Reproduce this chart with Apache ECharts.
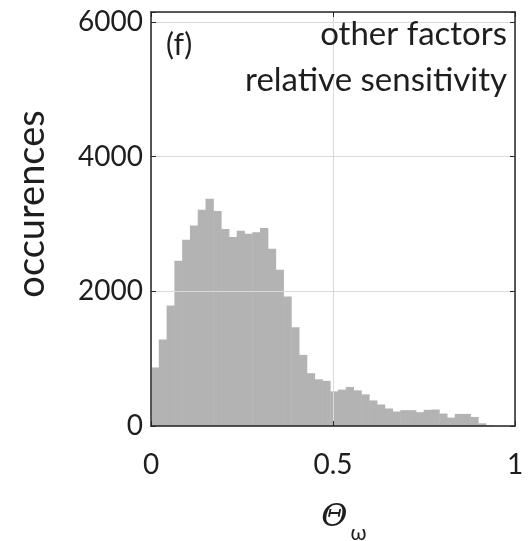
<!DOCTYPE html>
<html>
<head>
<meta charset="utf-8">
<script src="https://cdn.jsdelivr.net/npm/echarts@6/dist/echarts.min.js"></script>
<style>
  html, body { margin: 0; padding: 0; background: #fff; }
  #chart { width: 528px; height: 541px; }
</style>
</head>
<body>
<div id="chart"></div>
<script>
// histogram counts, one per bin starting at 0
const binWidth = 0.0214;
const counts = [
  870, 1285, 1790, 2454, 2766, 2980, 3212, 3376, 3195, 2925,
  2806, 2900, 2855, 2880, 2940, 2632, 2320, 1923, 1468, 1056,
  784, 694, 670, 515, 540, 580, 530, 470, 380, 320,
  260, 215, 235, 235, 205, 240, 245, 185, 125, 180,
  180, 135, 40, 10
];
const xTicks = [0, 0.5, 1];
const yTicks = [0, 2000, 4000, 6000];
const yMax = 6150;

const barData = counts.map((c, i) => [i * binWidth, (i + 1) * binWidth, c]);

const textColor = "#1e1e1e";
const axisColor = "#262626";
const gridColor = "#dadada";
const font = "Lato";

const chart = echarts.init(document.getElementById("chart"));

const option = {
  animation: false,
  grid: { left: 151, right: 13, top: 12, bottom: 115, show: false, outerBoundsMode: "none", containLabel: false },
  xAxis: [
    {
      type: "value",
      min: xTicks[0],
      max: xTicks[xTicks.length - 1],
      interval: 0.5,
      z: 5,
      name: "{t|Θ}{s|ω}",
      nameLocation: "middle",
      nameGap: 65,
      nameTextStyle: {
        rich: {
          t: { fontFamily: "DejaVu Serif", fontStyle: "italic", fontSize: 32, color: textColor, padding: [0, 0, 0, 22] },
          s: { fontFamily: font, fontSize: 21, color: textColor, padding: [32, 0, 0, 3] },
        },
      },
      axisLine: { show: true, onZero: false, lineStyle: { color: axisColor, width: 1.5 } },
      axisTick: { show: true, inside: true, length: 5, lineStyle: { color: axisColor } },
      axisLabel: {
        margin: 25,
        fontFamily: font,
        fontSize: 28,
        color: textColor,
        formatter: (v) => (xTicks.indexOf(v) >= 0 ? String(v) : ""),
      },
      splitLine: { show: true, lineStyle: { color: gridColor, width: 1 } },
    },
    {
      type: "value",
      position: "top",
      min: xTicks[0],
      max: xTicks[xTicks.length - 1],
      interval: 0.5,
      z: 5,
      axisLine: { show: true, onZero: false, lineStyle: { color: axisColor, width: 1.5 } },
      axisTick: { show: true, inside: true, length: 5, lineStyle: { color: axisColor } },
      axisLabel: { show: false },
      splitLine: { show: false },
    },
  ],
  yAxis: [
    {
      type: "value",
      min: 0,
      max: yMax,
      interval: 2000,
      z: 5,
      name: "occurences",
      nameLocation: "middle",
      nameGap: 100,
      nameTextStyle: { fontFamily: font, fontSize: 38, color: textColor, padding: [0, 0, 0, 30] },
      axisLine: { show: true, onZero: false, lineStyle: { color: axisColor, width: 1.5 } },
      axisTick: { show: true, inside: true, length: 5, lineStyle: { color: axisColor } },
      axisLabel: {
        margin: 8,
        fontFamily: font,
        fontSize: 28,
        color: textColor,
        formatter: (v) => (yTicks.indexOf(v) >= 0 ? String(v) : ""),
      },
      splitLine: { show: true, lineStyle: { color: gridColor, width: 1 } },
    },
    {
      type: "value",
      position: "right",
      min: 0,
      max: yMax,
      interval: 2000,
      z: 5,
      axisLine: { show: true, onZero: false, lineStyle: { color: axisColor, width: 1.5 } },
      axisTick: { show: true, inside: true, length: 5, lineStyle: { color: axisColor } },
      axisLabel: { show: false },
      splitLine: { show: false },
    },
  ],
  graphic: [
    {
      type: "text",
      left: 166,
      top: 30,
      z: 10,
      style: { text: "(f)", fontFamily: font, fontSize: 30, fill: textColor },
    },
    {
      type: "text",
      right: 21,
      top: 18,
      z: 10,
      style: { text: "other factors", fontFamily: font, fontSize: 33, fill: textColor },
    },
    {
      type: "text",
      right: 21,
      top: 64,
      z: 10,
      style: { text: "relative sensitivity", fontFamily: font, fontSize: 33, fill: textColor },
    },
  ],
  series: [
    {
      type: "custom",
      z: 1,
      xAxisIndex: 0,
      yAxisIndex: 0,
      renderItem: function (params, api) {
        const p0 = api.coord([api.value(0), api.value(2)]);
        const p1 = api.coord([api.value(1), 0]);
        return {
          type: "rect",
          shape: { x: p0[0], y: p0[1], width: p1[0] - p0[0] + 0.5, height: p1[1] - p0[1] },
          style: { fill: "#b3b3b3" },
        };
      },
      encode: { x: [0, 1], y: 2 },
      data: barData,
    },
  ],
};

chart.setOption(option);
</script>
</body>
</html>
